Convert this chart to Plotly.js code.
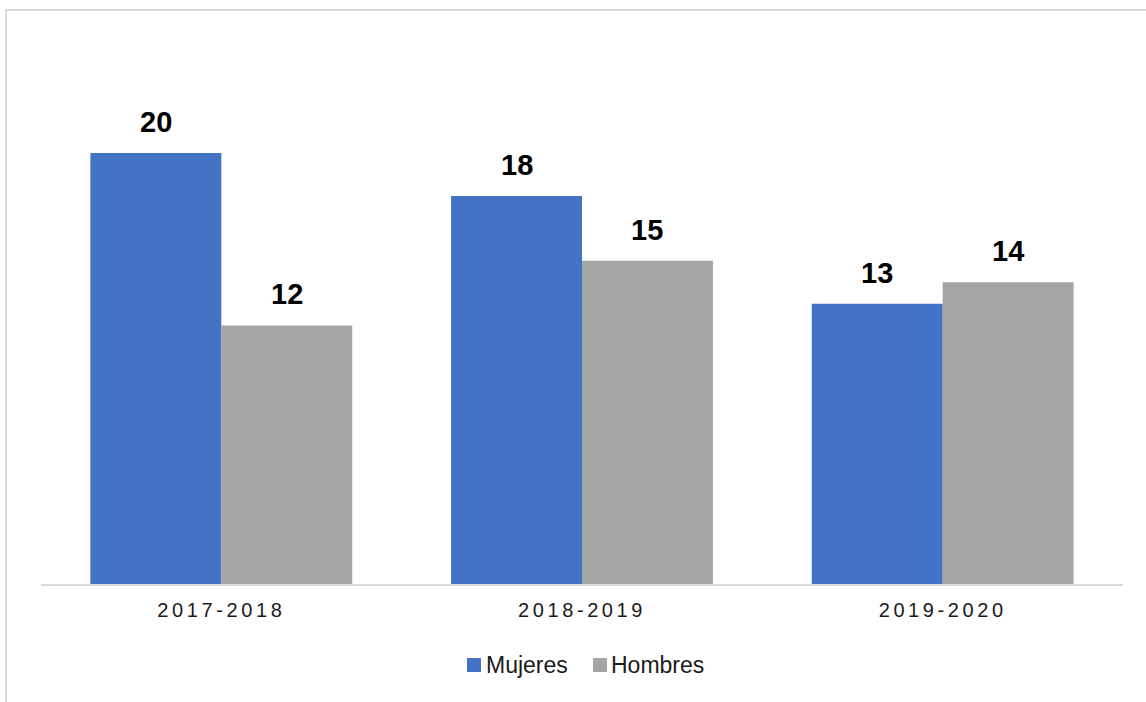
<!DOCTYPE html>
<html>
<head>
<meta charset="utf-8">
<script src="https://cdn.plot.ly/plotly-3.0.1.min.js"></script>
<style>
  html, body { margin: 0; padding: 0; background: #fff; overflow: hidden; }
  #frame { position: absolute; left: 5px; top: 9px; width: 1200px; height: 760px; border: 2px solid #d9d9d9; box-sizing: border-box; }
  #chart { position: absolute; left: 0; top: 0; width: 1146px; height: 702px; }
  #chart .xtick text { letter-spacing: 3.6px; }
</style>
</head>
<body>
<div id="frame"></div>
<div id="chart"></div>
<script>
const categories = ["2017-2018", "2018-2019", "2019-2020"];
const mujeres = [20, 18, 13];
const hombres = [12, 15, 14];
const seriesNames = ["Mujeres", "Hombres"];

const BLUE = "#4472C4";
const GRAY = "#A5A5A5";
const FONT = "Liberation Sans, Arial, sans-serif";
const BARGAP = 0.274;
const half = (1 - BARGAP) / 4;
const colors = [BLUE, GRAY];

const traces = [
  { type: "bar", name: seriesNames[0], x: categories, y: mujeres, marker: { color: BLUE }, hoverinfo: "none", showlegend: false },
  { type: "bar", name: seriesNames[1], x: categories, y: hombres, marker: { color: GRAY }, hoverinfo: "none", showlegend: false }
];

const annotations = [];
[[mujeres, -half], [hombres, half]].forEach(([vals, off]) => {
  vals.forEach((v, i) => {
    annotations.push({
      xref: "x", yref: "y", x: i + off, y: v,
      text: String(v), showarrow: false,
      yanchor: "bottom", yshift: 13,
      font: { family: FONT, size: 29, color: "#000", weight: "bold" }
    });
  });
});

// Legend (drawn as shapes + text annotations)
const plotL = 41, plotW = 1082, plotB = 584, plotH = 544;
const px2x = p => (p - plotL) / plotW;
const px2y = p => (plotB - p) / plotH;
const legendItems = [
  { sq: 467, tx: 484 },
  { sq: 593, tx: 609 }
];
const shapes = [];
legendItems.forEach((it, k) => {
  shapes.push({
    type: "rect", xref: "paper", yref: "paper",
    x0: px2x(it.sq), x1: px2x(it.sq + 14), y0: px2y(672), y1: px2y(658),
    fillcolor: colors[k], line: { width: 0 }
  });
  annotations.push({
    xref: "paper", yref: "paper", x: px2x(it.tx), y: px2y(665),
    xanchor: "left", yanchor: "middle", showarrow: false,
    text: seriesNames[k],
    font: { family: FONT, size: 23, color: "#1a1a1a" }
  });
});

const layout = {
  width: 1146, height: 702,
  margin: { l: 41, r: 23, t: 40, b: 118 },
  paper_bgcolor: "rgba(0,0,0,0)",
  plot_bgcolor: "rgba(0,0,0,0)",
  barmode: "group",
  bargap: BARGAP,
  bargroupgap: 0,
  showlegend: false,
  xaxis: {
    type: "category",
    showline: true, linecolor: "#d9d9d9", linewidth: 2,
    ticks: "", showgrid: false,
    ticklabelstandoff: 7,
    tickfont: { family: FONT, size: 20, color: "#1a1a1a" },
    fixedrange: true
  },
  yaxis: {
    range: [0, 544 / 21.55],
    showgrid: false, zeroline: false, showticklabels: false, ticks: "",
    fixedrange: true
  },
  shapes: shapes,
  annotations: annotations,
  font: { family: FONT }
};

Plotly.newPlot("chart", traces, layout, { displayModeBar: false, staticPlot: true });
</script>
</body>
</html>
